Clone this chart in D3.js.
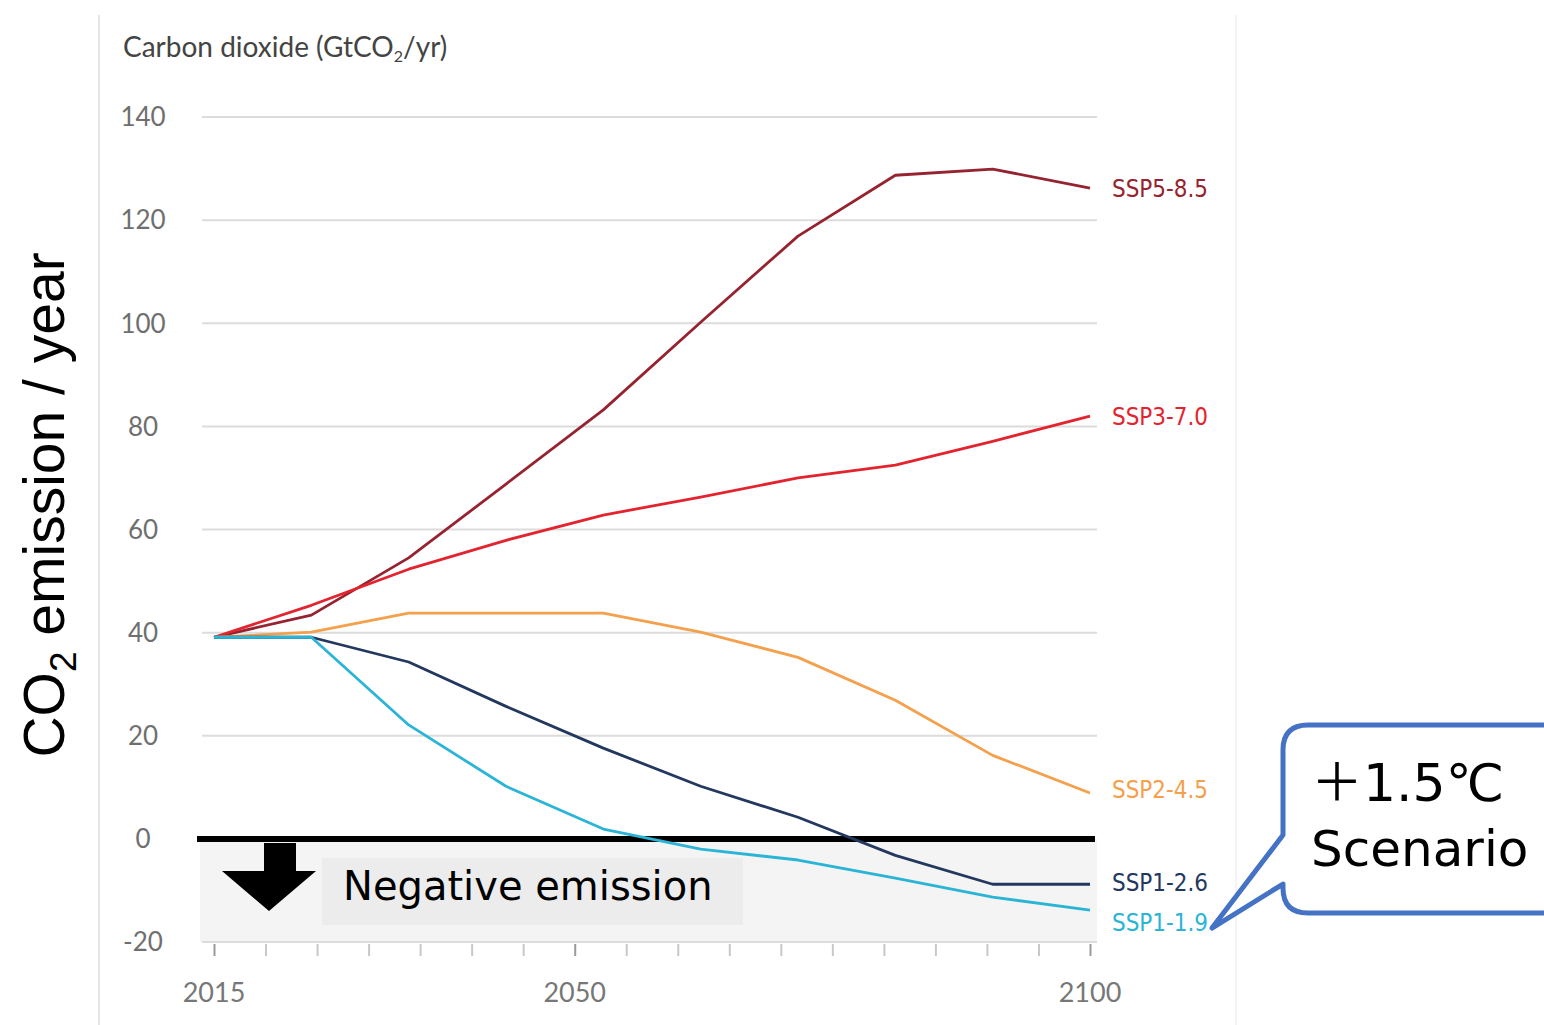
<!DOCTYPE html>
<html>
<head>
<meta charset="utf-8">
<script src="https://cdn.jsdelivr.net/npm/d3@7"></script>
<style>
  body { margin: 0; background: #fff; }
  svg { display: block; }
</style>
</head>
<body>
<script>
// data points of each scenario (drawn evenly spaced, as in the source figure)
var years = [2015, 2020, 2030, 2040, 2050, 2060, 2070, 2080, 2090, 2100];
var ssp585 = [39.1, 43.4, 54.5, 68.8, 83.2, 100.2, 116.9, 128.7, 129.9, 126.2];
var ssp370 = [39.1, 45.3, 52.3, 57.9, 62.8, 66.3, 70.0, 72.5, 77.1, 82.0];
var ssp245 = [39.1, 40.1, 43.8, 43.8, 43.8, 40.1, 35.2, 26.9, 16.2, 8.9];
var ssp126 = [39.1, 39.1, 34.3, 25.7, 17.6, 10.2, 4.2, -3.2, -8.8, -8.8];
var ssp119 = [39.1, 39.1, 22.1, 10.2, 1.9, -2.0, -4.1, -7.6, -11.3, -13.8];
var seriesNames = ["SSP5-8.5", "SSP3-7.0", "SSP2-4.5", "SSP1-2.6", "SSP1-1.9"];
var yTicks = [-20, 0, 20, 40, 60, 80, 100, 120, 140];
var xTickLabels = [2015, 2050, 2100];

var colors = ["#952430", "#e3242f", "#f4a04c", "#23385e", "#2ab4d6"];
var labelNudge = [0, 0, -4, -2, 12];

var svg = d3.select("body").append("svg")
            .attr("width", 1544)
            .attr("height", 1025);

var x = d3.scaleLinear().domain([2015, 2100]).range([214, 1090]);
var xp = d3.scalePoint().domain(years).range([214, 1090]);
var y = d3.scaleLinear().domain([-20, 140]).range([942, 117]);

// frame lines
svg.append("line").attr("x1", 99).attr("x2", 99).attr("y1", 15).attr("y2", 1025)
   .attr("stroke", "#dcdcdc").attr("stroke-width", 1.5);
svg.append("line").attr("x1", 1236).attr("x2", 1236).attr("y1", 15).attr("y2", 1025)
   .attr("stroke", "#f0f0f0").attr("stroke-width", 1.5);

// negative emission area
svg.append("rect")
   .attr("x", 200).attr("y", y(0))
   .attr("width", 897).attr("height", y(-20) - y(0))
   .attr("fill", "#f4f4f4");

// gridlines
svg.append("g").selectAll("line.grid")
   .data(yTicks.filter(function(d) { return d !== 0; }))
   .enter().append("line")
      .attr("class", "grid")
      .attr("x1", 202).attr("x2", 1097)
      .attr("y1", function(d) { return y(d); })
      .attr("y2", function(d) { return y(d); })
      .attr("stroke", "#dcdcdc")
      .attr("stroke-width", 2);

// y tick labels
svg.append("g").selectAll("text.ytick")
   .data(yTicks)
   .enter().append("text")
      .attr("class", "ytick")
      .attr("x", 143)
      .attr("y", function(d) { return y(d); })
      .attr("dy", "0.36em")
      .attr("text-anchor", "middle")
      .attr("font-family", "Lato, sans-serif")
      .attr("font-size", 26)
      .attr("fill", "#6f6f6f")
      .text(function(d) { return d; });

// x ticks every 5 years
var xAxis = d3.axisBottom(x)
   .tickValues(d3.range(2015, 2101, 5))
   .tickSize(12)
   .tickFormat("");
var gx = svg.append("g").attr("transform", "translate(0," + (y(-20) + 2) + ")").call(xAxis);
gx.select(".domain").remove();
gx.selectAll(".tick line")
   .attr("stroke", function(d) { return xTickLabels.indexOf(d) >= 0 ? "#9a9a9a" : "#c8c8c8"; })
   .attr("stroke-width", 2);

svg.append("g").selectAll("text.xtick")
   .data(xTickLabels)
   .enter().append("text")
      .attr("class", "xtick")
      .attr("x", function(d) { return x(d); })
      .attr("y", 1002)
      .attr("text-anchor", "middle")
      .attr("font-family", "Lato, sans-serif")
      .attr("font-size", 27)
      .attr("fill", "#777")
      .text(function(d) { return d; });

// chart title
var title = svg.append("text")
   .attr("x", 123).attr("y", 57)
   .attr("font-family", "Lato, sans-serif")
   .attr("font-size", 28)
   .attr("fill", "#444");
title.append("tspan").text("Carbon dioxide (GtCO");
title.append("tspan").attr("font-size", 16).attr("dy", 5).text("2");
title.append("tspan").attr("dy", -5).text("/yr)");

// zero line
svg.append("line")
   .attr("x1", 197).attr("x2", 1095)
   .attr("y1", y(0)).attr("y2", y(0))
   .attr("stroke", "#000")
   .attr("stroke-width", 6);

// scenario lines
var allSeries = [ssp585, ssp370, ssp245, ssp126, ssp119];
var line = d3.line()
   .x(function(d, i) { return xp(years[i]); })
   .y(function(d) { return y(d); });

allSeries.forEach(function(s, k) {
    svg.append("path")
       .attr("d", line(s))
       .attr("fill", "none")
       .attr("stroke", colors[k])
       .attr("stroke-width", 2.8)
       .attr("stroke-linejoin", "round");

    svg.append("text")
       .attr("x", xp(years[years.length - 1]) + 22)
       .attr("y", y(s[s.length - 1]) + labelNudge[k])
       .attr("dy", "0.36em")
       .attr("font-family", "'Liberation Sans Narrow', 'DejaVu Sans Condensed', sans-serif")
       .attr("font-size", 25)
       .attr("textLength", 96)
       .attr("lengthAdjust", "spacingAndGlyphs")
       .attr("fill", colors[k])
       .text(seriesNames[k]);
});

// negative emission annotation
svg.append("path")
   .attr("d", "M264,843 L296,843 L296,871 L316,871 L269,911 L222,871 L264,871 Z")
   .attr("fill", "#000");
svg.append("rect")
   .attr("x", 322).attr("y", 858)
   .attr("width", 421).attr("height", 67)
   .attr("fill", "#ececec");
svg.append("text")
   .attr("x", 343).attr("y", 900)
   .attr("font-family", "'DejaVu Sans', sans-serif")
   .attr("font-size", 40)
   .attr("fill", "#000")
   .text("Negative emission");

// y axis title
var yt = svg.append("text")
   .attr("transform", "translate(64,505) rotate(-90)")
   .attr("text-anchor", "middle")
   .attr("font-family", "'Liberation Sans', Arial, sans-serif")
   .attr("font-size", 57)
   .attr("fill", "#000");
yt.append("tspan").text("CO");
yt.append("tspan").attr("font-size", 37).attr("dy", 12).text("2");
yt.append("tspan").attr("dy", -12).text(" emission / year");

// callout
svg.append("path")
   .attr("d", "M1308,725 L1580,725 L1580,913 L1308,913 Q1283,913 1283,888 L1283,884 L1212,928 L1283,835 L1283,750 Q1283,725 1308,725 Z")
   .attr("fill", "#fff")
   .attr("stroke", "#4472c4")
   .attr("stroke-width", 5)
   .attr("stroke-linejoin", "round");
svg.append("text")
   .attr("x", 1311).attr("y", 801)
   .attr("font-family", "'DejaVu Sans', 'Noto Sans CJK JP', sans-serif")
   .attr("font-size", 52)
   .attr("fill", "#000")
   .text("＋1.5℃");
svg.append("text")
   .attr("x", 1311).attr("y", 866)
   .attr("font-family", "'DejaVu Sans', 'Noto Sans CJK JP', sans-serif")
   .attr("font-size", 50)
   .attr("fill", "#000")
   .text("Scenario");
</script>
</body>
</html>
